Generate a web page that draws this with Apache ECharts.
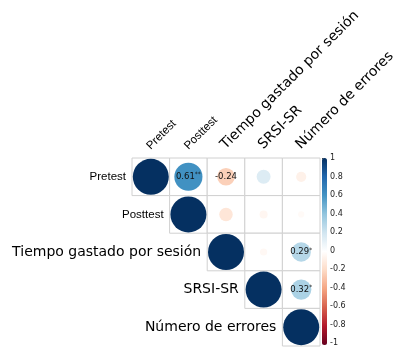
<!DOCTYPE html>
<html>
<head>
<meta charset="utf-8">
<script src="https://cdn.jsdelivr.net/npm/echarts@6/dist/echarts.min.js"></script>
<style>
  html, body { margin: 0; padding: 0; background: #fff; }
  #chart { width: 405px; height: 347px; }
</style>
</head>
<body>
<div id="chart"></div>
<script>
// Variables of the correlation matrix
const variables = ['Pretest', 'Posttest', 'Tiempo gastado por sesión', 'SRSI-SR', 'Número de errores'];

// Upper triangle of the correlation matrix (null below the diagonal)
const corrRow0 = [1, 0.61, -0.24, 0.15, -0.08];
const corrRow1 = [null, 1, -0.14, -0.05, -0.03];
const corrRow2 = [null, null, 1, -0.04, 0.29];
const corrRow3 = [null, null, null, 1, 0.32];
const corrRow4 = [null, null, null, null, 1];
const corrMatrix = [corrRow0, corrRow1, corrRow2, corrRow3, corrRow4];

// Cells that carry a printed coefficient: [row, col, significance stars]
const printedCells = [[0, 1, '**'], [0, 2, ''], [2, 4, '*'], [3, 4, '*']];

// Colour-bar ticks
const barMin = -1, barMax = 1, barStep = 0.2;

const rdbu = ['#67001F', '#B2182B', '#D6604D', '#F4A582', '#FDDBC7', '#FFFFFF',
              '#D1E5F0', '#92C5DE', '#4393C3', '#2166AC', '#053061'];

const smallNames = new Set(['Pretest', 'Posttest']);
const fontSmall = '11.5px "Liberation Sans"';
const fontBig = '14px "DejaVu Sans"';

const circleData = [];
const cellData = [];
corrMatrix.forEach((row, r) => {
  row.forEach((v, c) => {
    if (v === null) return;
    circleData.push([c, r, v]);
    cellData.push([c, r]);
  });
});

function starsFor(r, c) {
  const hit = printedCells.find(p => p[0] === r && p[1] === c);
  return hit ? hit[2] : null;
}

const chart = echarts.init(document.getElementById('chart'), null, { renderer: 'canvas' });

chart.setOption({
  animation: false,
  backgroundColor: '#fff',
  grid: [
    { left: 132, top: 158, width: 188, height: 188 },
    { left: 322, top: 158, width: 5, height: 187 }
  ],
  xAxis: [
    {
      type: 'category', data: variables, gridIndex: 0, position: 'top',
      axisLine: { show: false }, axisTick: { show: false }, splitLine: { show: false },
      axisLabel: { show: false }
    },
    { type: 'value', gridIndex: 1, show: false, min: 0, max: 1 }
  ],
  yAxis: [
    {
      type: 'category', data: variables, gridIndex: 0, inverse: true,
      axisLine: { show: false }, axisTick: { show: false }, axisLabel: { show: false },
      splitLine: { show: false }
    },
    {
      type: 'value', gridIndex: 1, position: 'right', min: barMin, max: barMax, interval: barStep,
      axisLine: { show: false }, splitLine: { show: false },
      axisTick: { show: true, length: 2, lineStyle: { color: '#333', width: 1 } },
      axisLabel: {
        margin: 3, fontSize: 8, color: '#222', fontFamily: 'DejaVu Sans',
        formatter: v => String(+v.toFixed(1))
      }
    }
  ],
  visualMap: {
    type: 'continuous', min: barMin, max: barMax, dimension: 2, seriesIndex: 1,
    orient: 'vertical', left: 322, top: 158, itemWidth: 5, itemHeight: 187,
    padding: 0, text: null, calculable: false, showLabel: false, hoverLink: false,
    inRange: { color: rdbu }
  },
  series: [
    {
      type: 'custom', xAxisIndex: 0, yAxisIndex: 0, z: 1, silent: true, clip: false,
      data: cellData,
      renderItem: function (params, api) {
        const c = api.value(0), r = api.value(1);
        const p = api.coord([c, r]);
        const s = api.size([1, 1]);
        const children = [{
          type: 'rect',
          shape: { x: p[0] - s[0] / 2, y: p[1] - s[1] / 2, width: s[0], height: s[1] },
          style: { fill: '#fff', stroke: '#d0d0d0', lineWidth: 1 }
        }];
        if (c === r) {
          const name = variables[r];
          const font = smallNames.has(name) ? fontSmall : fontBig;
          // row label, left of the diagonal cell
          children.push({
            type: 'text',
            style: {
              x: p[0] - s[0] / 2 - 6, y: p[1],
              text: name, align: 'right', verticalAlign: 'middle',
              fill: '#000', font: font
            }
          });
          // column label, above the grid, rotated 45 degrees
          const top = api.coord([c, 0])[1] - s[1] / 2;
          children.push({
            type: 'text',
            x: p[0] + 2, y: top - 6,
            rotation: Math.PI / 4,
            style: {
              x: 0, y: 0, text: name, align: 'left', verticalAlign: 'bottom',
              fill: '#000', font: font
            }
          });
        }
        return { type: 'group', children: children };
      }
    },
    {
      type: 'scatter', xAxisIndex: 0, yAxisIndex: 0, z: 2, silent: true,
      data: circleData,
      symbol: 'circle',
      symbolSize: v => Math.sqrt(Math.abs(v[2])) * 36,
      itemStyle: { opacity: 1 },
      label: {
        show: true, position: 'inside',
        formatter: p => {
          const st = starsFor(p.value[1], p.value[0]);
          if (st === null) return '';
          return '{v|' + p.value[2].toFixed(2) + '}' + (st ? '{s|' + st + '}' : '');
        },
        rich: {
          v: { fontFamily: 'DejaVu Sans', fontSize: 8.5, color: '#111' },
          s: { fontFamily: 'DejaVu Sans', fontSize: 6, color: '#111', verticalAlign: 'top', padding: [0, 0, 4, 0] }
        }
      }
    }
  ]
});
</script>
</body>
</html>
